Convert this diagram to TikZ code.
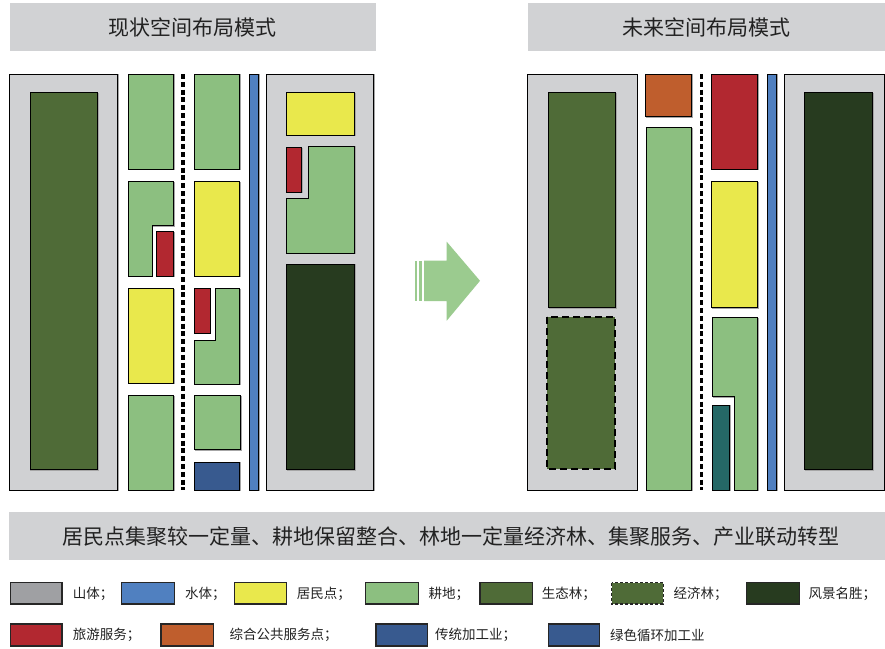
\documentclass[tikz,border=0pt]{standalone}
\usepackage{fontspec}
\newfontfamily\cjk{Noto Sans CJK SC}
\definecolor{bargray}{HTML}{D1D2D4}
\definecolor{hill}{HTML}{D0D1D3}
\definecolor{hilllg}{HTML}{9FA0A3}
\definecolor{eco}{HTML}{4F6B37}
\definecolor{crop}{HTML}{8CBF80}
\definecolor{resid}{HTML}{E9E84C}
\definecolor{tour}{HTML}{B22830}
\definecolor{indus}{HTML}{385A8F}
\definecolor{water}{HTML}{5080C0}
\definecolor{scenic}{HTML}{273B1F}
\definecolor{pub}{HTML}{BF5E2D}
\definecolor{teal}{HTML}{256866}
\definecolor{arrowg}{HTML}{9BCB8F}
\definecolor{txt}{HTML}{222222}
\tikzset{
  blk/.style={draw=black, line width=0.8pt, preaction={draw=black!35, line width=0.8pt, transform canvas={xshift=0.7pt,yshift=-0.7pt}}},
  road/.style={draw=black, line width=3.2pt, dash pattern=on 5pt off 2.8pt},
  lgbox/.style={draw=black!85, line width=1.1pt},
  lgtxt/.style={anchor=west, inner sep=0pt, text=txt, font=\cjk\fontsize{13.5}{14}\selectfont},
  ttl/.style={inner sep=0pt, text=txt, font=\cjk\fontsize{21}{22}\selectfont}
}
\begin{document}
\begin{tikzpicture}[x=1pt,y=-1pt]
\useasboundingbox[fill=white] (0,0) rectangle (885,648);
% title bars
\fill[bargray] (10,3.3) rectangle (375.7,50.7);
\node[ttl] (t1) at (192.8,27.5) {现状空间布局模式};
\fill[bargray] (528.3,3.3) rectangle (885,50.7);
\node[ttl] (t2) at (706.7,27.5) {未来空间布局模式};
% ---------- left panel ----------
\path[blk, fill=hill] (9.3,74) rectangle (117.7,490);
\path[blk, fill=eco] (30,92.3) rectangle (97.3,469.7);
\path[blk, fill=crop] (128.7,74) rectangle (173.7,169);
\path[blk, fill=crop] (128.7,181.3) -- (173.7,181.3) -- (173.7,225.7) -- (152,225.7) -- (152,276) -- (128.7,276) -- cycle;
\path[blk, fill=tour] (156.7,231.3) rectangle (173.7,276);
\path[blk, fill=resid] (128.7,288.7) rectangle (173.7,383);
\path[blk, fill=crop] (128.7,395.3) rectangle (173.7,490);
\draw[road] (183,74) -- (183,490);
\path[blk, fill=crop] (194.3,74) rectangle (239.3,169);
\path[blk, fill=resid] (194.3,181.3) rectangle (239.3,276);
\path[blk, fill=tour] (194.3,288.7) rectangle (210,333);
\path[blk, fill=crop] (215,288.7) -- (239.3,288.7) -- (239.3,384) -- (194.3,384) -- (194.3,340) -- (215,340) -- cycle;
\path[blk, fill=crop] (194.3,395.3) rectangle (240.7,449.3);
\path[blk, fill=indus] (194.3,462) rectangle (239.3,490);
\path[blk, fill=water] (249.3,74) rectangle (258.7,490);
\path[blk, fill=hill] (266.3,74) rectangle (373.3,490);
\path[blk, fill=resid] (286.7,92.3) rectangle (354.7,135);
\path[blk, fill=tour] (286.7,147.3) rectangle (301.7,192);
\path[blk, fill=crop] (308.7,146) -- (354.7,146) -- (354.7,253) -- (286.7,253) -- (286.7,198.7) -- (308.7,198.7) -- cycle;
\path[blk, fill=scenic] (286.7,264) rectangle (354.7,469.7);
% ---------- arrow ----------
\fill[arrowg] (415,260.7) rectangle (417.3,301);
\fill[arrowg] (419.3,260.7) rectangle (422,301);
\fill[arrowg] (424,260.7) -- (446.7,260.7) -- (446.7,241.7) -- (480,280.8) -- (446.7,320.7) -- (446.7,301) -- (424,301) -- cycle;
% ---------- right panel ----------
\path[blk, fill=hill] (527.3,74) rectangle (637,490);
\path[blk, fill=eco] (548.3,92.3) rectangle (615.3,307.7);
\path[fill=eco, draw=black, line width=2.4pt, dash pattern=on 7pt off 4pt] (547,317) rectangle (615,469);
\path[blk, fill=pub] (645.3,74) rectangle (691.7,116.3);
\path[blk, fill=crop] (646.3,127.3) rectangle (691.7,490);
\draw[road] (701.3,74) -- (701.3,490);
\path[blk, fill=tour] (711.3,74) rectangle (757.3,169);
\path[blk, fill=resid] (711.3,181.3) rectangle (757.3,307.7);
\path[blk, fill=crop] (712.3,317.7) -- (757.3,317.7) -- (757.3,490) -- (734.3,490) -- (734.3,396.7) -- (712.3,396.7) -- cycle;
\path[blk, fill=teal] (712.3,405) rectangle (729.3,490);
\path[blk, fill=water] (767.3,74) rectangle (776.7,490);
\path[blk, fill=hill] (784,74) rectangle (884,490);
\path[blk, fill=scenic] (804.3,92.3) rectangle (872.7,469.7);
% ---------- bottom bar ----------
\fill[bargray] (9.3,511.7) rectangle (885,560);
\node[ttl] (sum) at (450.5,536.5) {居民点集聚较一定量、耕地保留整合、林地一定量经济林、集聚服务、产业联动转型};
% ---------- legend ----------
\path[lgbox, fill=hilllg] (10.7,582.7) rectangle (62,604);
\node[lgtxt] (l1) at (72.7,593.5) {山体；};
\path[lgbox, fill=water] (121.3,582.7) rectangle (174.7,604);
\node[lgtxt] (l2) at (185,593.5) {水体；};
\path[lgbox, fill=resid] (234.3,582.7) rectangle (286.7,604);
\node[lgtxt] (l3) at (296.7,593.5) {居民点；};
\path[lgbox, fill=crop] (365.7,582.7) rectangle (418.3,604);
\node[lgtxt] (l4) at (428.5,593.5) {耕地；};
\path[lgbox, fill=eco] (480,582.7) rectangle (532.7,604);
\node[lgtxt] (l5) at (541.7,593.5) {生态林；};
\path[fill=eco, draw=black!85, line width=1.1pt, dash pattern=on 3pt off 2pt] (611.7,582.7) rectangle (663.3,604);
\node[lgtxt] (l6) at (673.3,593.5) {经济林；};
\path[lgbox, fill=scenic] (746.7,582.7) rectangle (799.3,604);
\node[lgtxt] (l7) at (808.3,593.5) {风景名胜；};
\path[lgbox, fill=tour] (10.7,624) rectangle (62,646);
\node[lgtxt] (l8) at (72.7,635) {旅游服务；};
\path[lgbox, fill=pub] (161,624) rectangle (213.7,646);
\node[lgtxt] (l9) at (229.3,635) {综合公共服务点；};
\path[lgbox, fill=indus] (376,624) rectangle (427.7,646);
\node[lgtxt] (l10) at (435,635) {传统加工业；};
\path[lgbox, fill=indus] (548.3,624) rectangle (599.3,646);
\node[lgtxt] (l11) at (610,635) {绿色循环加工业};
\end{tikzpicture}
\end{document}
